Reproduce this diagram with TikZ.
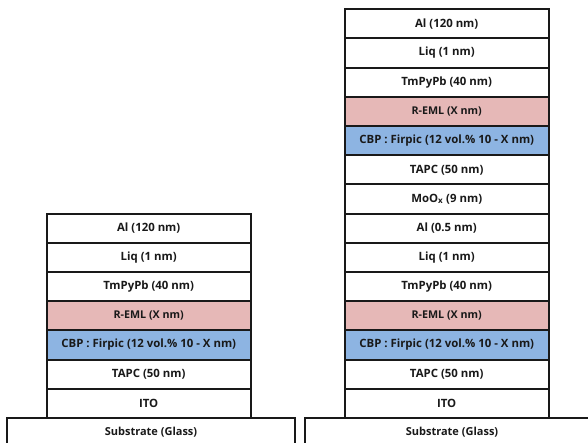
\documentclass[tikz,border=0pt]{standalone}
\usepackage{fontspec}
\setmainfont{Open Sans}
\definecolor{pinkc}{RGB}{230,184,183}
\definecolor{bluec}{RGB}{141,180,226}
\definecolor{inkc}{RGB}{25,25,25}
\begin{document}
\begin{tikzpicture}[x=1pt,y=-1pt,
  layer/.style={draw=inkc, text=inkc, line width=1.9pt, minimum width=204pt, minimum height=29.2pt,
    inner sep=0pt, outer sep=0pt, anchor=north, fill=white,
    font=\bfseries\fontsize{11.4}{13}\selectfont},
  pinkl/.style={layer, fill=pinkc, font=\bfseries\fontsize{10.7}{12}\selectfont},
  bluel/.style={layer, fill=bluec},
  subtext/.style={text=inkc, font=\bfseries\fontsize{11}{12}\selectfont}]
\useasboundingbox (0,0) rectangle (588,443);
\fill[white] (0,0) rectangle (588,443);
\clip (0,0) rectangle (588,443);
% left substrate
\node[layer, minimum width=287.4pt, minimum height=50pt] (lsub) at (151,418) {};
\node[subtext] (lsubt) at (151,432.5) {Substrate (Glass)};
% right substrate
\node[layer, minimum width=294pt, minimum height=50pt] (rsub) at (452,418) {};
\node[subtext] (rsubt) at (452,432.5) {Substrate (Glass)};
% left stack
\node[layer] (l1) at (148.7,213.6) {Al (120 nm)};
\node[layer] (l2) at (l1.south) {Liq (1 nm)};
\node[layer] (l3) at (l2.south) {TmPyPb (40 nm)};
\node[pinkl] (l4) at (l3.south) {R-EML (X nm)};
\node[bluel] (l5) at (l4.south) {CBP : Firpic (12 vol.\% 10 - X nm)};
\node[layer] (l6) at (l5.south) {TAPC (50 nm)};
\node[layer] (l7) at (l6.south) {ITO};
% right stack
\node[layer] (r1) at (446.7,9.2) {Al (120 nm)};
\node[layer] (r2) at (r1.south) {Liq (1 nm)};
\node[layer] (r3) at (r2.south) {TmPyPb (40 nm)};
\node[pinkl] (r4) at (r3.south) {R-EML (X nm)};
\node[bluel] (r5) at (r4.south) {CBP : Firpic (12 vol.\% 10 - X nm)};
\node[layer] (r6) at (r5.south) {TAPC (50 nm)};
\node[layer] (r7) at (r6.south) {MoO\textsubscript{x} (9 nm)};
\node[layer] (r8) at (r7.south) {Al (0.5 nm)};
\node[layer] (r9) at (r8.south) {Liq (1 nm)};
\node[layer] (r10) at (r9.south) {TmPyPb (40 nm)};
\node[pinkl] (r11) at (r10.south) {R-EML (X nm)};
\node[bluel] (r12) at (r11.south) {CBP : Firpic (12 vol.\% 10 - X nm)};
\node[layer] (r13) at (r12.south) {TAPC (50 nm)};
\node[layer] (r14) at (r13.south) {ITO};
\end{tikzpicture}
\end{document}
